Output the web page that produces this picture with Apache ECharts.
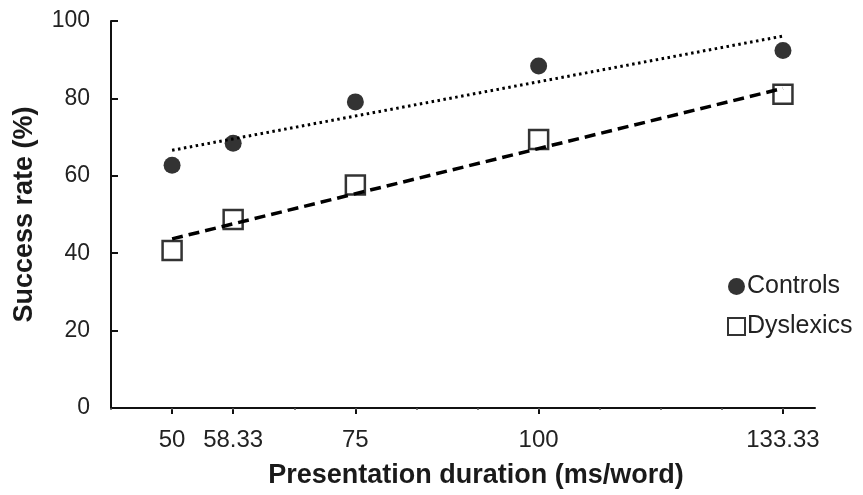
<!DOCTYPE html>
<html>
<head>
<meta charset="utf-8">
<script src="https://cdn.jsdelivr.net/npm/echarts@6/dist/echarts.min.js"></script>
<style>
html,body{margin:0;padding:0;background:#fff;}
#chart{width:863px;height:495px;}
</style>
</head>
<body>
<div id="chart"></div>
<script>
// ---- data ----
var durations = [50, 58.33, 75, 100, 133.33];
var durationLabels = ['50', '58.33', '75', '100', '133.33'];
var controls = [62.7, 68.4, 79.1, 88.4, 92.4];
var dyslexics = [40.7, 48.7, 57.6, 69.4, 81.1];
var trendX = [50, 133.33];
var controlsTrend = [66.6, 96.1];
var dyslexicsTrend = [43.7, 82.6];
var minorTickStep = 8.33333;
var yTicks = [0, 20, 40, 60, 80, 100];

var FONT = "'Liberation Sans', Arial, sans-serif";
var INK = '#111';

function pairs(xs, ys) { return xs.map(function (x, i) { return [x, ys[i]]; }); }

var allTicks = [];
for (var k = 5; k <= 16; k++) allTicks.push(+(k * minorTickStep).toFixed(4));

var chart = echarts.init(document.getElementById('chart'), null, {renderer: 'canvas'});
chart.setOption({
  animation: false,
  backgroundColor: '#fff',
  textStyle: {fontFamily: FONT},
  grid: {left: 111, right: 48, top: 21, bottom: 87, containLabel: false},
  legend: {
    orient: 'vertical',
    left: 722, top: 269,
    itemWidth: 17, itemHeight: 17,
    itemGap: 15,
    data: ['Controls', 'Dyslexics'],
    textStyle: {fontFamily: FONT, fontSize: 25, color: '#222', padding: [0, 0, 0, -3]}
  },
  xAxis: [{
    type: 'value',
    min: 41.6667, max: 137.7,
    name: 'Presentation duration (ms/word)',
    nameLocation: 'middle',
    nameGap: 54,
    nameTextStyle: {fontFamily: FONT, fontSize: 27, fontWeight: 'bold', color: '#1a1a1a', padding: [0, 0, 0, 26]},
    axisLine: {show: true, lineStyle: {color: INK, width: 2}},
    axisTick: {show: true, inside: false, length: 6, lineStyle: {color: INK, width: 2}, customValues: durations},
    axisLabel: {
      show: true, margin: 20, fontFamily: FONT, fontSize: 24, color: '#222',
      customValues: durations,
      formatter: function (v) {
        var i = durations.indexOf(v);
        return i >= 0 ? durationLabels[i] : '';
      }
    },
    splitLine: {show: false}
  }, {
    type: 'value',
    position: 'bottom',
    min: 41.6667, max: 137.7,
    axisLine: {show: false},
    axisTick: {show: true, length: 2, lineStyle: {color: '#555', width: 1.5}, customValues: allTicks},
    axisLabel: {show: false},
    splitLine: {show: false}
  }],
  yAxis: {
    type: 'value',
    min: 0, max: 100, interval: 20,
    name: 'Success rate (%)',
    nameLocation: 'middle',
    nameGap: 73,
    nameRotate: 90,
    nameTextStyle: {fontFamily: FONT, fontSize: 27, fontWeight: 'bold', color: '#1a1a1a'},
    axisLine: {show: true, lineStyle: {color: INK, width: 2}},
    axisTick: {show: true, inside: true, length: 7, lineStyle: {color: INK, width: 2}},
    axisLabel: {margin: 21, fontFamily: FONT, fontSize: 23, color: '#222'},
    splitLine: {show: false}
  },
  series: [{
    name: 'Controls',
    type: 'scatter',
    symbol: 'circle',
    symbolSize: 17,
    itemStyle: {color: '#000'},
    data: pairs(durations, controls),
    z: 2
  }, {
    name: 'Dyslexics',
    type: 'scatter',
    symbol: 'rect',
    symbolSize: 19,
    itemStyle: {color: '#fff', borderColor: '#000', borderWidth: 2.5},
    data: pairs(durations, dyslexics),
    z: 2
  }, {
    name: 'Controls trend',
    type: 'line',
    symbol: 'none',
    silent: true,
    lineStyle: {color: '#000', width: 3, type: [2.5, 3.5]},
    data: pairs(trendX, controlsTrend),
    z: 3
  }, {
    name: 'Dyslexics trend',
    type: 'line',
    symbol: 'none',
    silent: true,
    lineStyle: {color: '#000', width: 3.5, type: [11, 6]},
    data: pairs(trendX, dyslexicsTrend),
    z: 3
  }]
});
</script>
</body>
</html>
